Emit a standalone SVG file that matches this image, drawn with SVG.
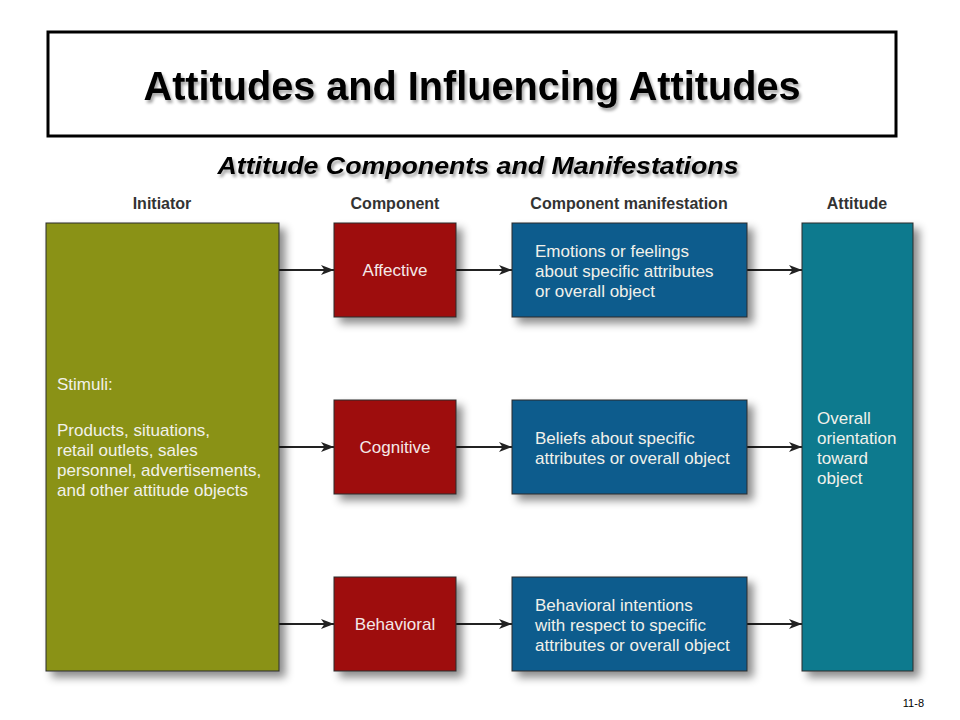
<svg xmlns="http://www.w3.org/2000/svg" width="960" height="720" viewBox="0 0 960 720">
<defs>
<filter id="sh" x="-20%" y="-20%" width="150%" height="150%">
<feDropShadow dx="6" dy="6" stdDeviation="4" flood-color="#000" flood-opacity="0.45"/>
</filter>
<filter id="tsh" x="-10%" y="-30%" width="120%" height="170%">
<feDropShadow dx="2" dy="3" stdDeviation="1.5" flood-color="#000" flood-opacity="0.35"/>
</filter>
<marker id="ah" viewBox="0 0 13 10" refX="13" refY="5" markerWidth="13" markerHeight="10" markerUnits="userSpaceOnUse" orient="auto">
<path d="M0,0 L13,5 L0,10 L3.5,5 Z" fill="#222"/>
</marker>
</defs>
<style>
.box{stroke:#2b2b2b;stroke-width:1}
.hdr{font-family:"Liberation Sans",Arial,sans-serif;font-weight:bold;font-size:16px;fill:#333;text-anchor:middle}
.t{font-family:"Liberation Sans",Arial,sans-serif;font-size:17px;fill:#f1f1ea}
.tc{font-family:"Liberation Sans",Arial,sans-serif;font-size:17px;fill:#f4e8e8;text-anchor:middle}
.conn{stroke:#222;stroke-width:2;fill:none;marker-end:url(#ah)}
</style>
<rect width="960" height="720" fill="#fff"/>
<g id="title">
<rect x="48" y="32" width="848" height="104" fill="#fff" stroke="#000" stroke-width="3"/>
<text x="472" y="100" text-anchor="middle" font-family="Liberation Sans,Arial,sans-serif" font-weight="bold" font-size="41" fill="#000" filter="url(#tsh)" textLength="657" lengthAdjust="spacingAndGlyphs">Attitudes and Influencing Attitudes</text>
</g>
<g id="subtitle">
<text x="478" y="174" text-anchor="middle" font-family="Liberation Sans,Arial,sans-serif" font-weight="bold" font-style="italic" font-size="24" fill="#000" filter="url(#tsh)" textLength="521" lengthAdjust="spacingAndGlyphs">Attitude Components and Manifestations</text>
</g>
<g id="headers">
<text class="hdr" x="162" y="209">Initiator</text>
<text class="hdr" x="395" y="209">Component</text>
<text class="hdr" x="629" y="209">Component manifestation</text>
<text class="hdr" x="857" y="209">Attitude</text>
</g>
<g id="connectors">
<line class="conn" x1="279" y1="270" x2="334" y2="270"/>
<line class="conn" x1="456" y1="270" x2="512" y2="270"/>
<line class="conn" x1="747" y1="270" x2="802" y2="270"/>
<line class="conn" x1="279" y1="447" x2="334" y2="447"/>
<line class="conn" x1="456" y1="447" x2="512" y2="447"/>
<line class="conn" x1="747" y1="447" x2="802" y2="447"/>
<line class="conn" x1="279" y1="624" x2="334" y2="624"/>
<line class="conn" x1="456" y1="624" x2="512" y2="624"/>
<line class="conn" x1="747" y1="624" x2="802" y2="624"/>
</g>
<g id="initiator">
<rect class="box" x="46" y="223" width="233" height="448" fill="#8a9216" filter="url(#sh)"/>
<text class="t" x="57" y="390">Stimuli:</text>
<text class="t" x="57" y="436">Products, situations,</text>
<text class="t" x="57" y="456">retail outlets, sales</text>
<text class="t" x="57" y="476">personnel, advertisements,</text>
<text class="t" x="57" y="496">and other attitude objects</text>
</g>
<g id="affective">
<rect class="box" x="334" y="223" width="122" height="94" fill="#9e0a10" filter="url(#sh)"/>
<text class="tc" x="395" y="276">Affective</text>
</g>
<g id="cognitive">
<rect class="box" x="334" y="400" width="122" height="94" fill="#9e0a10" filter="url(#sh)"/>
<text class="tc" x="395" y="453">Cognitive</text>
</g>
<g id="behavioral">
<rect class="box" x="334" y="577" width="122" height="94" fill="#9e0a10" filter="url(#sh)"/>
<text class="tc" x="395" y="630">Behavioral</text>
</g>
<g id="emotions">
<rect class="box" x="512" y="223" width="235" height="94" fill="#0b5b8d" filter="url(#sh)"/>
<text class="t" x="535" y="257">Emotions or feelings</text>
<text class="t" x="535" y="277">about specific attributes</text>
<text class="t" x="535" y="297">or overall object</text>
</g>
<g id="beliefs">
<rect class="box" x="512" y="400" width="235" height="94" fill="#0b5b8d" filter="url(#sh)"/>
<text class="t" x="535" y="444">Beliefs about specific</text>
<text class="t" x="535" y="464">attributes or overall object</text>
</g>
<g id="intentions">
<rect class="box" x="512" y="577" width="235" height="94" fill="#0b5b8d" filter="url(#sh)"/>
<text class="t" x="535" y="611">Behavioral intentions</text>
<text class="t" x="535" y="631">with respect to specific</text>
<text class="t" x="535" y="651">attributes or overall object</text>
</g>
<g id="attitude">
<rect class="box" x="802" y="223" width="111" height="448" fill="#0e7a8e" filter="url(#sh)"/>
<text class="t" x="817" y="424">Overall</text>
<text class="t" x="817" y="444">orientation</text>
<text class="t" x="817" y="464">toward</text>
<text class="t" x="817" y="484">object</text>
</g>
<text x="924" y="707" text-anchor="end" font-family="Liberation Sans,Arial,sans-serif" font-size="11" fill="#000">11-8</text>
</svg>
